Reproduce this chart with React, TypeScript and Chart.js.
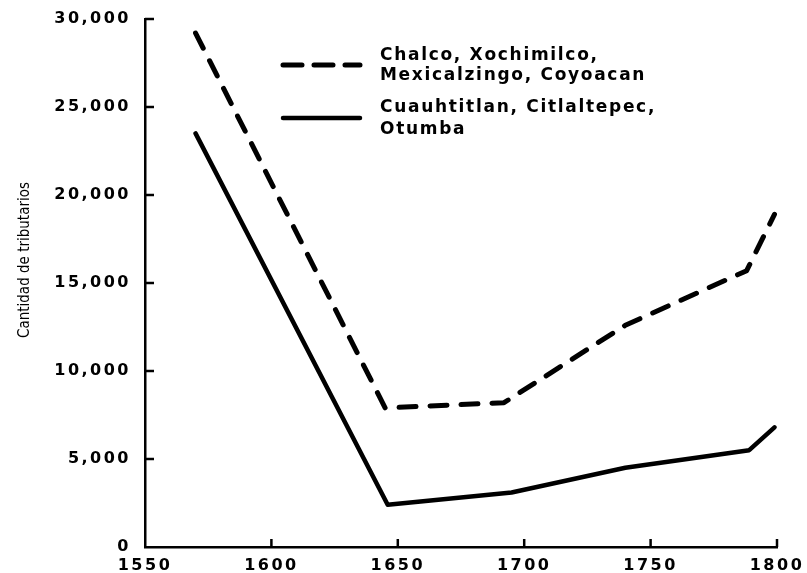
import React, { useEffect, useRef } from "react";
import { Chart, registerables } from "chart.js";

Chart.register(...registerables);

const chalcoYears = [1570, 1645, 1692, 1740, 1788, 1799];
const chalcoValues = [29200, 7900, 8200, 12600, 15700, 18900];
const cuauYears = [1570, 1646, 1695, 1740, 1789, 1799];
const cuauValues = [23500, 2400, 3100, 4500, 5500, 6800];
const legendChalco = ["Chalco, Xochimilco,", "Mexicalzingo, Coyoacan"];
const legendCuau = ["Cuauhtitlan, Citlaltepec,", "Otumba"];
const yTitle = "Cantidad de tributarios";
const xTicks = [1550, 1600, 1650, 1700, 1750, 1800];
const yTicks = [0, 5000, 10000, 15000, 20000, 25000, 30000];

const decorPlugin = {
  id: "decor",
  beforeDraw(chart: any) {
    const ctx = chart.ctx;
    ctx.letterSpacing = "2.5px";
  },
  afterDraw(chart: any) {
    const ctx = chart.ctx;
    const xs = chart.scales.x;
    const ys = chart.scales.y;
    const area = chart.chartArea;
    ctx.save();
    ctx.strokeStyle = "#000";
    ctx.lineWidth = 2.5;
    ctx.lineCap = "butt";
    // inward ticks
    yTicks.forEach((v) => {
      if (v === 0) return;
      const y = ys.getPixelForValue(v);
      ctx.beginPath();
      ctx.moveTo(area.left, y);
      ctx.lineTo(area.left + 9, y);
      ctx.stroke();
    });
    xTicks.forEach((v) => {
      if (v === 1550) return;
      const x = xs.getPixelForValue(v);
      ctx.beginPath();
      ctx.moveTo(x, area.bottom);
      ctx.lineTo(x, area.bottom - 8);
      ctx.stroke();
    });
    // legend
    ctx.lineCap = "round";
    ctx.lineWidth = 5;
    ctx.setLineDash([19, 12]);
    ctx.beginPath();
    ctx.moveTo(283, 65);
    ctx.lineTo(360, 65);
    ctx.stroke();
    ctx.setLineDash([]);
    ctx.lineWidth = 4.5;
    ctx.beginPath();
    ctx.moveTo(283, 118);
    ctx.lineTo(360, 118);
    ctx.stroke();
    ctx.fillStyle = "#000";
    ctx.font = "bold 17px 'DejaVu Sans', sans-serif";
    ctx.letterSpacing = "1.7px";
    ctx.textAlign = "left";
    ctx.textBaseline = "middle";
    ctx.fillText(legendChalco[0], 380, 56);
    ctx.fillText(legendChalco[1], 380, 76);
    ctx.fillText(legendCuau[0], 380, 108);
    ctx.fillText(legendCuau[1], 380, 130);
    // y title
    ctx.letterSpacing = "0px";
    ctx.font = "15px 'Liberation Sans Narrow', 'DejaVu Sans Condensed', sans-serif";
    ctx.translate(25, 260);
    ctx.rotate(-Math.PI / 2);
    ctx.textAlign = "center";
    ctx.fillText(yTitle, 0, 0);
    ctx.restore();
  },
};

export default function App() {
  const ref = useRef<HTMLCanvasElement>(null);
  useEffect(() => {
    if (!ref.current) return;
    const chart = new Chart(ref.current, {
      type: "line",
      data: {
        datasets: [
          {
            label: legendChalco.join(" "),
            data: chalcoYears.map((x, i) => ({ x, y: chalcoValues[i] })),
            borderColor: "#000",
            borderWidth: 5,
            borderDash: [17, 14],
            borderCapStyle: "round",
            borderJoinStyle: "round",
            pointRadius: 0,
            tension: 0,
            fill: false,
          },
          {
            label: legendCuau.join(" "),
            data: cuauYears.map((x, i) => ({ x, y: cuauValues[i] })),
            borderColor: "#000",
            borderWidth: 4.5,
            borderCapStyle: "round",
            borderJoinStyle: "round",
            pointRadius: 0,
            tension: 0,
            fill: false,
          },
        ],
      },
      options: {
        animation: false,
        responsive: false,
        devicePixelRatio: 1,
        layout: { padding: { top: 19, right: 30, left: 0, bottom: 0 } },
        plugins: { legend: { display: false }, tooltip: { enabled: false } },
        scales: {
          x: {
            type: "linear",
            min: 1550,
            max: 1800,
            grid: { display: false, drawTicks: false },
            border: { display: true, color: "#000", width: 2.5 },
            ticks: {
              stepSize: 50,
              autoSkip: false,
              maxRotation: 0,
              padding: 9,
              color: "#000",
              font: { family: "'DejaVu Sans', sans-serif", size: 16, weight: "bold" },
              callback: (v: any) => String(v),
            },
            afterFit: (s: any) => {
              s.height = 26;
              s.paddingLeft = 0;
              s.paddingRight = 0;
            },
          },
          y: {
            min: 0,
            max: 30000,
            grid: { display: false, drawTicks: false },
            border: { display: true, color: "#000", width: 2.5 },
            ticks: {
              stepSize: 5000,
              padding: 14,
              color: "#000",
              font: { family: "'DejaVu Sans', sans-serif", size: 16, weight: "bold" },
              callback: (v: any) => Number(v).toLocaleString("en-US"),
            },
            afterFit: (s: any) => {
              s.width = 145;
              s.paddingTop = 0;
              s.paddingBottom = 0;
            },
          },
        },
      },
      plugins: [decorPlugin],
    } as any);
    return () => chart.destroy();
  }, []);
  return (
    <div style={{ position: "fixed", left: 0, top: 0, width: 807, height: 573, background: "#fff" }}>
      <canvas ref={ref} width={807} height={573} style={{ width: 807, height: 573 }} />
    </div>
  );
}
